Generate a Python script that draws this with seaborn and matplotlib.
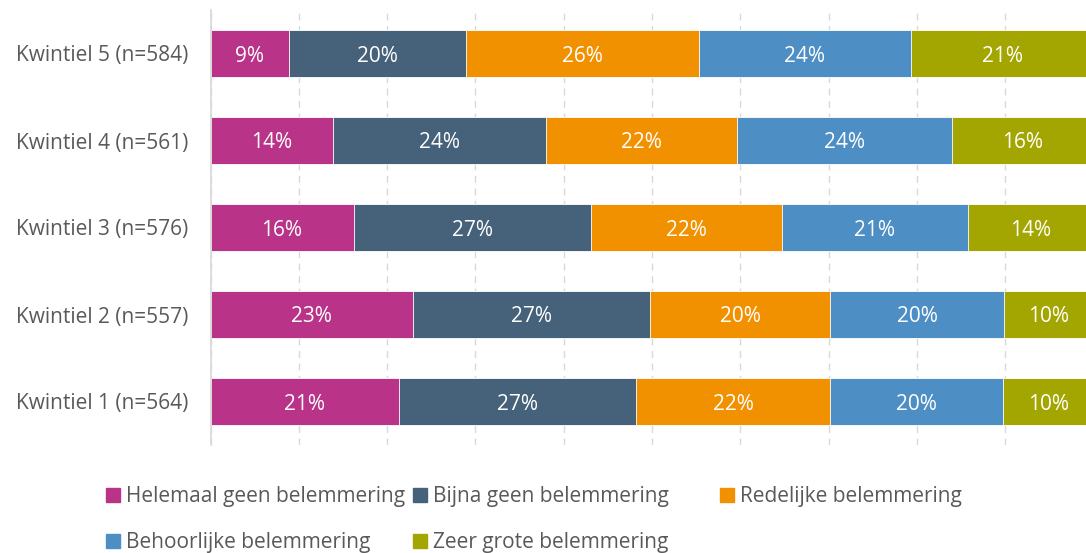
import matplotlib
matplotlib.use("Agg")
import matplotlib.pyplot as plt
import matplotlib.patches as mpatches
import seaborn as sns
import numpy as np

# 数据：各五分位组的分布（%）
categories = ["Kwintiel 5 (n=584)", "Kwintiel 4 (n=561)", "Kwintiel 3 (n=576)",
              "Kwintiel 2 (n=557)", "Kwintiel 1 (n=564)"]
series = ["Helemaal geen belemmering", "Bijna geen belemmering", "Redelijke belemmering",
          "Behoorlijke belemmering", "Zeer grote belemmering"]
helemaal = [8.9, 13.9, 16.2, 22.9, 21.4]
bijna = [20.0, 24.1, 26.9, 26.9, 26.8]
redelijk = [26.4, 21.6, 21.6, 20.4, 22.0]
behoorlijk = [24.0, 24.4, 21.1, 19.7, 19.6]
zeer_groot = [20.7, 16.0, 14.2, 10.1, 10.2]
colors = ["#B93389", "#46617A", "#F29100", "#4D8FC4", "#A3A600"]

sns.set_theme(style="white")
plt.rcParams["font.family"] = ["Open Sans", "DejaVu Sans"]
FS = 15
TXT = "#595959"

W, H = 1086, 553
fig = plt.figure(figsize=(W / 100, H / 100), dpi=100)
ax = fig.add_axes([210.5 / W, 1 - 445 / H, 883 / W, 435 / H])

values = np.array([helemaal, bijna, redelijk, behoorlijk, zeer_groot])
cum = values.cumsum(axis=0)

# 从最后一段往前画累计条形，形成堆叠效果
for k in range(len(series) - 1, -1, -1):
    sns.barplot(x=cum[k], y=categories, orient="h", color=colors[k], width=0.55,
                edgecolor="white", linewidth=0.6, saturation=1, ax=ax)

# 每段中间标注百分比
for k in range(len(series)):
    for i in range(len(categories)):
        ax.text(cum[k][i] - values[k][i] / 2, i, f"{round(values[k][i]):d}%",
                ha="center", va="center_baseline", color="white", fontsize=FS)

ax.set_xlim(0, 100)
ax.set_ylim(4.5, -0.5)
ax.set_xticks(range(0, 101, 10))
ax.xaxis.grid(True, linestyle=(0, (5, 4)), color="#D9D9D9", linewidth=1)
ax.set_axisbelow(True)
ax.tick_params(axis="x", labelbottom=False, length=0)
ax.tick_params(axis="y", length=0, pad=16, labelsize=FS, labelcolor=TXT)
ax.set_xlabel("")
ax.set_ylabel("")
for side in ["top", "right", "bottom"]:
    ax.spines[side].set_visible(False)
ax.spines["left"].set_color("#D9D9D9")

# 图例：三列等宽，按行排列
columns = [[0, 3], [1, 4], [2]]
col_x = [106, 413, 720]
for cx, idxs in zip(col_x, columns):
    handles = [mpatches.Patch(color=colors[j], label=series[j]) for j in idxs]
    leg = fig.legend(handles=handles, loc="upper left",
                     bbox_to_anchor=(cx / W, 1 - 486 / H), frameon=False,
                     fontsize=FS, handlelength=0.68, handleheight=0.68,
                     handletextpad=0.3, labelspacing=1.2, borderpad=0,
                     borderaxespad=0)
    for t in leg.get_texts():
        t.set_color(TXT)

fig.savefig("out.png", dpi=100)
